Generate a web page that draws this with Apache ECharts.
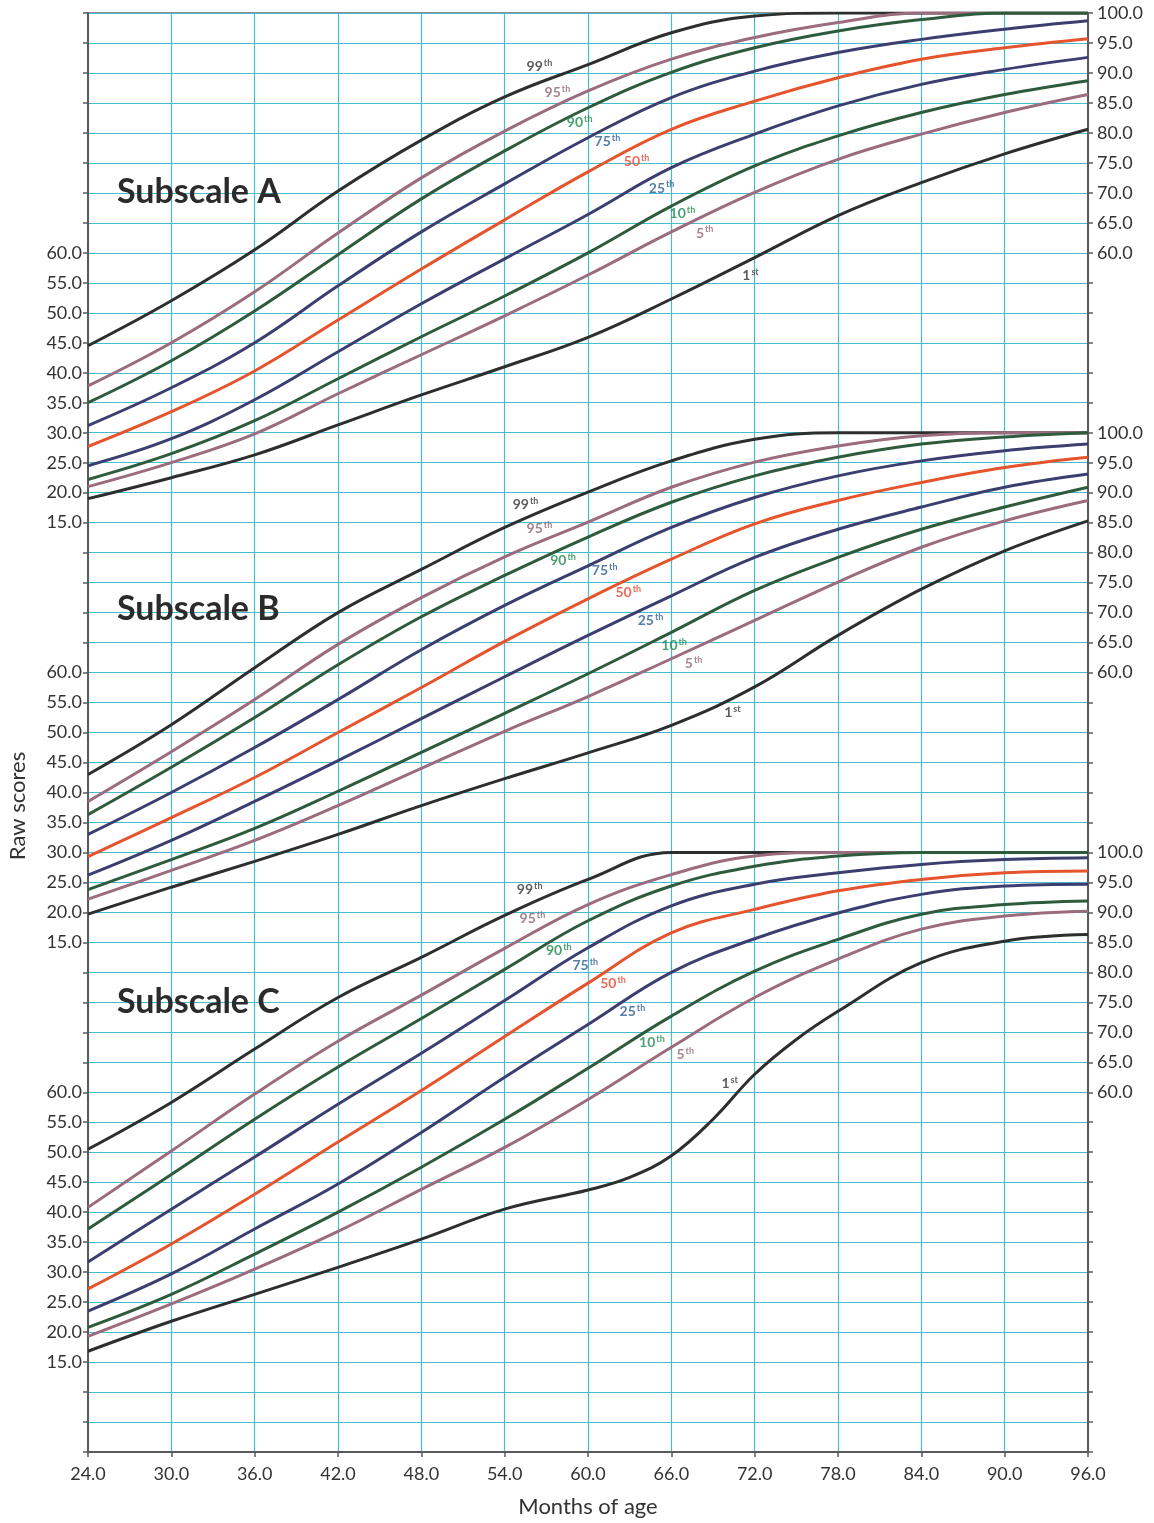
<!DOCTYPE html>
<html>
<head>
<meta charset="utf-8">
<title>Subscale percentile chart</title>
<script src="https://cdn.jsdelivr.net/npm/echarts@6/dist/echarts.min.js"></script>
<style>
  html, body { margin: 0; padding: 0; background: #fff; }
  #chart { width: 1154px; height: 1523px; }
</style>
</head>
<body>
<div id="chart"></div>
<script>
// months of age, shared by all curves (except the 1st percentile of subscale C)
const months = [24, 30, 36, 42, 48, 54, 60, 66, 72, 78, 84, 90, 96];

// Subscale A
const a99 = [44.5, 52, 60.5, 70.3, 78.8, 86, 91.4, 96.7, 99.5, 100, 100, 100, 100];
const a95 = [37.8, 45, 53.5, 63.3, 72.5, 80.3, 87, 92.3, 95.9, 98.4, 100, 100, 100];
const a90 = [35, 42, 50.3, 59.7, 69, 77, 84.2, 90.1, 94.2, 97, 98.9, 100, 100];
const a75 = [31.2, 37.5, 45, 54.5, 63.5, 71.5, 79.2, 85.9, 90.3, 93.4, 95.6, 97.3, 98.7];
const a50 = [27.7, 33.5, 40.3, 48.8, 57.3, 65.5, 73.5, 80.6, 85.3, 89.2, 92.3, 94.2, 95.7];
const a25 = [24.5, 29, 35.5, 43.5, 51.5, 59, 66.4, 74.2, 79.8, 84.5, 88.1, 90.6, 92.6];
const a10 = [22.2, 26.5, 32, 39, 46, 52.8, 60, 67.8, 74.5, 79.5, 83.4, 86.4, 88.7];
const a5 = [21, 25, 29.8, 36.5, 43, 49.5, 56.3, 63.5, 70.1, 75.6, 79.8, 83.4, 86.4];
const a1 = [19, 22.5, 26.3, 31.3, 36.3, 41, 45.9, 52.3, 59.2, 66.2, 71.7, 76.5, 80.6];

// Subscale B
const b99 = [43, 51.3, 60.8, 70, 77.2, 84.2, 90.1, 95.3, 98.9, 100, 100, 100, 100];
const b95 = [38.5, 46.8, 55.5, 64.7, 72.5, 79.3, 85.1, 90.9, 95.1, 97.8, 99.5, 100, 100];
const b90 = [36.3, 44.2, 52.5, 61.3, 69.3, 76.2, 82.6, 88.4, 92.8, 95.9, 98.1, 99.3, 100];
const b75 = [33, 40, 47.5, 55.5, 63.8, 71.2, 77.8, 84.2, 89.2, 92.8, 95.3, 97, 98.1];
const b50 = [29.3, 35.8, 42.5, 50, 57.5, 65.2, 72.3, 78.9, 84.8, 88.7, 91.7, 94.2, 95.9];
const b25 = [26.2, 32, 38.5, 45.3, 52.3, 59.3, 66.2, 72.8, 79.2, 83.9, 87.6, 90.9, 93.1];
const b10 = [23.8, 28.8, 34, 40.2, 46.7, 53.2, 59.8, 66.7, 73.7, 79.2, 83.9, 87.6, 90.9];
const b5 = [22.2, 27, 32, 37.8, 44, 50.2, 56, 62.3, 68.7, 75.1, 80.9, 85.3, 88.7];
const b1 = [19.7, 24.2, 28.5, 33, 37.8, 42.3, 46.6, 51.2, 57.6, 66.2, 73.9, 80.3, 85.3];

// Subscale C
const c99 = [50.5, 58.3, 67.2, 75.8, 82.5, 89.5, 95.5, 100, 100, 100, 100, 100, 100];
const c95 = [40.8, 50.2, 59.7, 68.5, 76.2, 84, 91.3, 96.3, 99.4, 100, 100, 100, 100];
const c90 = [37.2, 46.3, 55.5, 64.2, 72.3, 80.5, 88.6, 94.4, 97.7, 99.4, 100, 100, 100];
const c75 = [31.7, 40.5, 49.2, 58, 66.5, 75.3, 84.1, 91.1, 94.7, 96.6, 98, 98.8, 99.1];
const c50 = [27.2, 34.7, 43, 51.7, 60.3, 69.3, 78.2, 86.6, 90.5, 93.6, 95.5, 96.6, 96.9];
const c25 = [23.5, 29.7, 37.2, 44.7, 53.3, 62.5, 71.3, 80, 85.6, 89.9, 93, 94.4, 94.7];
const c10 = [20.8, 26.3, 33, 40, 47.5, 55.5, 64, 72.7, 80.2, 85.5, 89.7, 91.3, 91.9];
const c5 = [19.3, 24.7, 30.5, 36.8, 43.8, 50.8, 58.8, 67.5, 75.8, 82.2, 87.2, 89.4, 90.2];
const monthsC1 = [24, 30, 36, 42, 48, 54, 60, 63, 66, 69, 72, 75, 78, 84, 90, 96];
const c1 = [16.8, 21.8, 26.3, 30.8, 35.5, 40.5, 43.7, 45.8, 49.4, 55.5, 63, 68.8, 73.5, 81.6, 85.2, 86.3];

// percentile tags written on the curves
const pctNames = ['99', '95', '90', '75', '50', '25', '10', '5', '1'];
const pctSup = ['th', 'th', 'th', 'th', 'th', 'th', 'th', 'th', 'st'];
const aTagMonth = [56.5, 57.8, 59.4, 61.4, 63.5, 65.3, 66.8, 68.4, 71.7];
const aTagValue = [91, 86.8, 81.7, 78.5, 75.3, 70.8, 66.5, 63.3, 56.2];
const bTagMonth = [55.5, 56.5, 58.2, 61.2, 62.9, 64.5, 66.2, 67.6, 70.4];
const bTagValue = [88, 84, 78.7, 77, 73.3, 68.7, 64.5, 61.5, 53.3];
const cTagMonth = [55.8, 56.0, 57.9, 59.8, 61.8, 63.2, 64.6, 67, 70.2];
const cTagValue = [93.8, 89, 83.7, 81.2, 78.2, 73.5, 68.3, 66.3, 61.5];

const lineColors = ['#2c2f2d', '#9b6b7e', '#2f5b3d', '#3c3e70', '#e5542c', '#3c3e70', '#2f5b3d', '#9b6b7e', '#2c2f2d'];
const tagColors = ['#333333', '#8e6373', '#1d8a4c', '#2c5b94', '#e8452f', '#2c5b94', '#1d8a4c', '#966677', '#333333'];

const cyan = '#46bccd';
const font = 'Lato';

const chart = echarts.init(document.getElementById('chart'));

function pairs(xs, ys) {
  return xs.map((x, i) => [x, ys[i]]);
}

function yAxisFor(min, max, side, lo, hi, main) {
  return {
    type: 'value',
    min: min,
    max: max,
    interval: 5,
    position: side,
    axisLine: { show: main, onZero: false, lineStyle: { color: '#5a5a5a', width: 2 } },
    axisTick: { show: main, length: 5, lineStyle: { color: '#5a5a5a', width: 1.5 } },
    splitLine: { show: main && side === 'left', lineStyle: { color: cyan, width: 1.2 } },
    axisLabel: {
      margin: side === 'left' ? 6 : 9,
      fontSize: 18,
      fontFamily: font,
      color: '#333',
      formatter: (v) => (v >= lo && v <= hi ? v.toFixed(1) : '')
    }
  };
}

const series = [];
function addSubscale(curves, xs, yIdx, tagMonth, tagValue) {
  curves.forEach((ys, i) => {
    series.push({
      type: 'line',
      xAxisIndex: 0,
      yAxisIndex: yIdx,
      smooth: 0.4,
      showSymbol: false,
      silent: true,
      z: 3,
      lineStyle: { color: lineColors[i], width: 3 },
      data: pairs(xs[i], ys)
    });
  });
  series.push({
    type: 'scatter',
    xAxisIndex: 0,
    yAxisIndex: yIdx,
    symbolSize: 1,
    itemStyle: { color: 'transparent' },
    z: 5,
    label: {
      show: true,
      position: 'inside',
      formatter: (p) => `{n${p.dataIndex}|${pctNames[p.dataIndex]}}{s${p.dataIndex}|${pctSup[p.dataIndex]}}`,
      rich: Object.fromEntries(pctNames.flatMap((n, i) => [
        ['n' + i, { fontSize: 14, fontWeight: 'bold', fontFamily: font, color: tagColors[i], lineHeight: 16 }],
        ['s' + i, { fontSize: 9, fontWeight: 'bold', fontFamily: font, color: tagColors[i], lineHeight: 16, verticalAlign: 'top', padding: [0, 0, 6, 1] }]
      ]))
    },
    data: pairs(tagMonth, tagValue)
  });
}

const m9 = new Array(9).fill(months);
addSubscale([a99, a95, a90, a75, a50, a25, a10, a5, a1], m9, 0, aTagMonth, aTagValue);
addSubscale([b99, b95, b90, b75, b50, b25, b10, b5, b1], m9, 2, bTagMonth, bTagValue);
addSubscale([c99, c95, c90, c75, c50, c25, c10, c5, c1], m9.slice(0, 8).concat([monthsC1]), 4, cTagMonth, cTagValue);

chart.setOption({
  animation: false,
  backgroundColor: '#ffffff',
  grid: {
    left: 88,
    right: 66,
    top: 13,
    bottom: 70,
    show: true,
    borderColor: '#6a6a6a',
    borderWidth: 1.5
  },
  xAxis: {
    type: 'value',
    min: 24,
    max: 96,
    interval: 6,
    name: 'Months of age',
    nameLocation: 'middle',
    nameGap: 44,
    nameTextStyle: { fontSize: 22, fontFamily: font, color: '#333' },
    axisLine: { onZero: false, lineStyle: { color: '#5a5a5a', width: 2 } },
    axisTick: { length: 5, lineStyle: { color: '#5a5a5a', width: 1.5 } },
    axisLabel: { margin: 13, fontSize: 18, fontFamily: font, color: '#333', formatter: (v) => v.toFixed(1) },
    splitLine: { show: true, lineStyle: { color: cyan, width: 1.2 } }
  },
  yAxis: [
    yAxisFor(-140, 100, 'left', 15, 60, true),
    yAxisFor(-140, 100, 'right', 60, 100, true),
    yAxisFor(-70, 170, 'left', 15, 60, false),
    yAxisFor(-70, 170, 'right', 60, 100, false),
    yAxisFor(0, 240, 'left', 15, 60, false),
    yAxisFor(0, 240, 'right', 60, 100, false)
  ],
  graphic: [
    { type: 'text', x: 18, y: 806, rotation: Math.PI / 2, style: { text: 'Raw scores', fontSize: 22, fontFamily: font, fill: '#333', align: 'center', verticalAlign: 'middle' } },
    { type: 'text', x: 117, y: 192, z: 10, style: { text: 'Subscale A', fontSize: 34, fontWeight: 'bold', fontFamily: font, fill: '#2b2b2b', verticalAlign: 'middle' } },
    { type: 'text', x: 117, y: 609, z: 10, style: { text: 'Subscale B', fontSize: 34, fontWeight: 'bold', fontFamily: font, fill: '#2b2b2b', verticalAlign: 'middle' } },
    { type: 'text', x: 117, y: 1002, z: 10, style: { text: 'Subscale C', fontSize: 34, fontWeight: 'bold', fontFamily: font, fill: '#2b2b2b', verticalAlign: 'middle' } }
  ],
  series: series
});
</script>
</body>
</html>
